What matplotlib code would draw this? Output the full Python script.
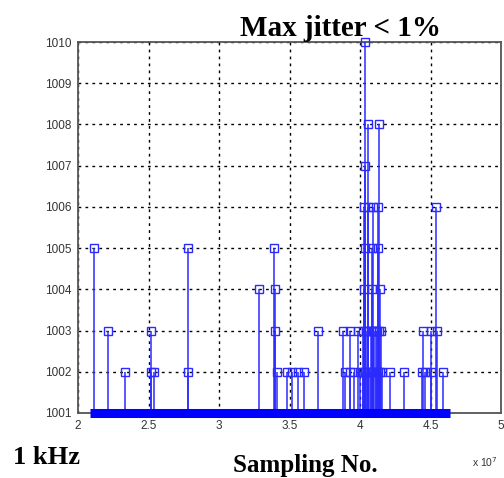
import matplotlib.pyplot as plt

# sample numbers in units of 1e7, values are the measured period count
x_1010 = [4.035]
x_1008 = [4.06, 4.135]
x_1007 = [4.035]
x_1006 = [4.03, 4.06, 4.09, 4.125, 4.54]
x_1005 = [2.113, 2.78, 3.39, 4.035, 4.085, 4.13]
x_1004 = [3.28, 3.40, 4.025, 4.085, 4.14]
x_1003 = [2.21, 2.52, 3.40, 3.70, 3.88, 3.93, 3.985, 4.02, 4.04, 4.06,
          4.075, 4.09, 4.10, 4.11, 4.12, 4.135, 4.15, 4.45, 4.50, 4.545]
x_1002 = [2.33, 2.52, 2.54, 2.78, 3.41, 3.48, 3.52, 3.56, 3.60, 3.89,
          3.93, 3.96, 4.00, 4.02, 4.035, 4.05, 4.065, 4.08, 4.095, 4.11,
          4.125, 4.14, 4.155, 4.21, 4.31, 4.44, 4.46, 4.50, 4.59]
first_sample = 2.085
last_sample = 4.64
base = 1001

xs, ys = [], []
for v, grp in [(1010, x_1010), (1008, x_1008), (1007, x_1007), (1006, x_1006),
               (1005, x_1005), (1004, x_1004), (1003, x_1003), (1002, x_1002)]:
    xs += grp
    ys += [v] * len(grp)

blue = '#2b2bff'
fig = plt.figure(figsize=(5.04, 4.78), dpi=100)
ax = fig.add_axes([0.155, 0.136, 0.839, 0.776])

ax.vlines(xs, base, ys, color=blue, lw=1.1, zorder=3)
ax.plot(xs, ys, 's', ms=6, mfc='none', mec=blue, mew=1.0, zorder=4, clip_on=False)
ax.hlines(base, first_sample, last_sample, color='#0000ff', lw=6.5, zorder=5, clip_on=False)

ax.set_xlim(2, 5)
ax.set_ylim(1001, 1010)
ax.set_xticks([2, 2.5, 3, 3.5, 4, 4.5, 5])
ax.set_xticklabels(['2', '2.5', '3', '3.5', '4', '4.5', '5'])
ax.set_yticks(range(1001, 1011))
ax.grid(True, color='black', linestyle=(0, (2, 3)), lw=1.0)
for s in ax.spines.values():
    s.set_color('#555555')
    s.set_linewidth(1.3)
ax.tick_params(direction='in', length=0, labelsize=8.5, colors='#333333',
               labelfontfamily='Liberation Sans', pad=5)

fig.text(0.675, 0.925, 'Max jitter < 1%', ha='center', va='baseline',
         family='Liberation Serif', weight='bold', fontsize=21)
fig.text(0.025, 0.03, '1 kHz', ha='left', va='baseline',
         family='Liberation Serif', weight='bold', fontsize=19)
fig.text(0.605, 0.012, 'Sampling No.', ha='center', va='baseline',
         family='Liberation Serif', weight='bold', fontsize=18)
fig.text(0.937, 0.022, r'x 10$^{7}$', ha='left', va='baseline',
         family='Liberation Sans', fontsize=7.5, color='#333333')

fig.savefig('out.png', dpi=100)
